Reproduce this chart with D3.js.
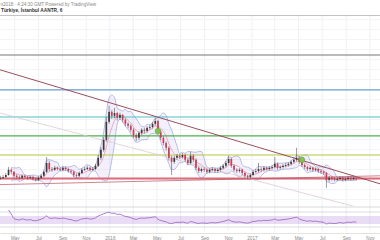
<!DOCTYPE html>
<html>
<head>
<meta charset="utf-8">
<script src="https://cdn.jsdelivr.net/npm/d3@7"></script>
<style>
  body { margin: 0; background: #fff; }
  svg { display: block; font-family: "Liberation Sans", Arial, sans-serif; }
</style>
</head>
<body>
<div id="chart"></div>
<script>
// weekly candles, first week starts Mon 23 Mar 2015
var closes = [2.03,2.05,2.10,2.23,2.18,2.08,2.05,2.03,2.08,2.05,2.03,2.05,2.00,1.98,2.03,2.08,2.18,2.40,2.25,2.23,
  2.28,2.25,2.23,2.28,2.25,2.20,2.18,2.10,2.08,2.15,2.23,2.25,2.28,2.23,2.25,2.33,2.53,2.73,2.98,3.43,
  3.68,3.58,3.65,3.53,3.60,3.48,3.38,3.33,3.23,3.10,3.03,3.15,3.23,3.20,3.28,3.30,3.38,3.45,3.18,3.03,
  2.90,2.78,2.53,2.43,2.53,2.58,2.55,2.60,2.48,2.40,2.58,2.48,2.28,2.20,2.25,2.23,2.18,2.23,2.25,2.20,
  2.23,2.28,2.33,2.40,2.50,2.33,2.23,2.20,2.23,2.15,2.08,2.05,2.10,2.18,2.20,2.25,2.23,2.28,2.25,2.28,
  2.30,2.38,2.28,2.30,2.33,2.35,2.38,2.43,2.48,2.53,2.43,2.35,2.30,2.25,2.28,2.23,2.25,2.20,2.18,2.15,
  1.98,2.03,2.00,1.98,2.00,2.03,1.98,2.00,2.03,2.00,2.03,2.00];
var highs = [2.08,2.10,2.15,2.30,2.27,2.20,2.12,2.09,2.12,2.11,2.08,2.09,2.08,2.04,2.07,2.12,2.22,2.55,2.45,2.30,
  2.33,2.31,2.29,2.32,2.31,2.28,2.24,2.21,2.14,2.19,2.27,2.30,2.33,2.31,2.30,2.38,2.60,2.80,3.05,3.55,
  3.83,3.72,3.78,3.68,3.66,3.63,3.52,3.42,3.37,3.27,3.14,3.20,3.27,3.28,3.32,3.35,3.42,3.53,3.48,3.22,
  3.07,2.94,2.82,2.58,2.58,2.63,2.62,2.65,2.63,2.52,2.68,2.62,2.52,2.32,2.29,2.29,2.27,2.27,2.30,2.28,
  2.27,2.32,2.37,2.45,2.58,2.53,2.36,2.27,2.27,2.26,2.18,2.11,2.14,2.22,2.25,2.40,2.29,2.32,2.31,2.32,
  2.35,2.55,2.41,2.34,2.37,2.40,2.42,2.47,2.52,2.78,2.57,2.46,2.39,2.33,2.32,2.31,2.29,2.28,2.24,2.21,
  2.18,2.07,2.06,2.04,2.04,2.06,2.06,2.04,2.06,2.06,2.06,2.05];
var lows = [1.98,2.00,2.02,2.08,2.13,2.03,2.01,1.99,2.00,2.02,1.99,2.00,1.96,1.94,1.95,2.00,2.05,2.15,2.20,2.18,
  2.20,2.21,2.19,2.20,2.21,2.16,2.13,2.05,2.03,2.05,2.12,2.20,2.22,2.19,2.20,2.22,2.30,2.48,2.68,2.93,
  3.38,3.50,3.52,3.46,3.48,3.42,3.32,3.27,3.17,3.03,2.95,2.98,3.10,3.14,3.16,3.23,3.26,3.33,3.12,2.97,
  2.84,2.71,2.46,2.10,2.38,2.48,2.50,2.51,2.43,2.35,2.37,2.42,2.22,2.15,2.16,2.18,2.13,2.14,2.19,2.16,
  2.16,2.19,2.24,2.29,2.36,2.28,2.18,2.15,2.16,2.10,2.03,2.00,2.01,2.07,2.14,2.16,2.18,2.19,2.21,2.21,
  2.24,2.26,2.23,2.24,2.26,2.29,2.31,2.34,2.39,2.44,2.38,2.30,2.25,2.20,2.21,2.18,2.19,2.15,2.13,2.10,
  1.78,1.93,1.96,1.94,1.95,1.97,1.94,1.95,1.97,1.96,1.97,1.96];

// horizontal levels (price) and their colours
var levels = [6.10, 5.10, 4.23, 3.55, 3.08, 2.60, 2.01];
var levelColors = ["#8a8a8a", "#777777", "#6a9fd2", "#4cc0c4", "#4caf50", "#b3c83c", "#e06a78"];
var levelWidths = [1, 1, 1.2, 1.2, 1.2, 1.2, 2];

// trend lines: [startDate, startPrice, endDate, endPrice]
var trendLines = [
  ["2015-03-24", 4.73, "2017-11-27", 1.88, "#8e3b46", 0.9],
  ["2015-03-24", 3.65, "2017-09-27", 1.30, "#dccbd0", 0.8],
  ["2015-03-24", 1.86, "2017-11-27", 2.08, "#b8505f", 0.7]
];

// signal markers
var signalWeeks = [58, 111];
var signalPrices = [3.20, 2.48];

var W = 380, H = 240;
var paneTop = 15, paneBottom = 206, rsiTop = 207, rsiBottom = 231;

var svg = d3.select("#chart").append("svg")
  .attr("width", W).attr("height", H);

var parse = d3.timeParse("%Y-%m-%d");
var weekStart = new Date(2015, 2, 23);
var dates = closes.map(function(d, i) { return d3.timeDay.offset(weekStart, 7 * i + 2); });

var x = d3.scaleTime()
  .domain([new Date(2015, 2, 24), new Date(2017, 10, 27)])
  .range([0, W]);
var y = d3.scaleLinear().domain([1.4, 6.4]).range([203, 3]);

// grid
var months = d3.timeMonth.range(new Date(2015, 4, 1), new Date(2017, 11, 1), 2);
svg.append("g").selectAll("line").data(months).enter().append("line")
  .attr("x1", function(d) { return x(d); }).attr("x2", function(d) { return x(d); })
  .attr("y1", paneTop).attr("y2", rsiBottom)
  .attr("stroke", "#eef0f5").attr("stroke-width", 1);
svg.append("g").selectAll("line").data(d3.range(1.5, 6.1, 0.25)).enter().append("line")
  .attr("x1", 0).attr("x2", W)
  .attr("y1", function(d) { return Math.round(y(d)) + 0.5; })
  .attr("y2", function(d) { return Math.round(y(d)) + 0.5; })
  .attr("stroke", "#f3f4f8").attr("stroke-width", 1);

// header
svg.append("text").attr("x", 0.5).attr("y", 5.5)
  .style("font-size", "4.6px").attr("fill", "#888")
  .text("n2018 · 4:24:30 GMT   Powered by TradingView");
svg.append("text").attr("x", 1).attr("y", 12)
  .style("font-size", "4.8px").style("font-weight", "bold").attr("fill", "#333")
  .text("Türkiye, İstanbul AANTR, 6");

svg.append("defs").append("clipPath").attr("id", "pane")
  .append("rect").attr("x", 0).attr("y", paneTop).attr("width", W).attr("height", paneBottom - paneTop);

var main = svg.append("g").attr("clip-path", "url(#pane)");

// bollinger bands from closes (5 week window)
var bb = closes.map(function(d, i) {
  if (i < 4) return null;
  var win = closes.slice(i - 4, i + 1);
  var m = d3.mean(win), s = d3.deviation(win);
  return { date: dates[i], mid: m, up: m + 2 * s, lo: m - 2 * s };
}).filter(function(d) { return d; });

main.append("path").datum(bb)
  .attr("fill", "rgba(150,110,220,0.10)")
  .attr("d", d3.area().curve(d3.curveMonotoneX)
    .x(function(d) { return x(d.date); })
    .y0(function(d) { return y(d.lo); })
    .y1(function(d) { return y(d.up); }));
["up", "lo"].forEach(function(k) {
  main.append("path").datum(bb)
    .attr("fill", "none").attr("stroke", "#8c93dc").attr("stroke-width", 0.6)
    .attr("d", d3.line().curve(d3.curveMonotoneX)
      .x(function(d) { return x(d.date); })
      .y(function(d) { return y(d[k]); }));
});
main.append("path").datum(bb)
  .attr("fill", "none").attr("stroke", "#e47aa0").attr("stroke-width", 0.6)
  .attr("d", d3.line().curve(d3.curveMonotoneX)
    .x(function(d) { return x(d.date); })
    .y(function(d) { return y(d.mid); }));

// horizontal levels
main.append("g").selectAll("line").data(levels).enter().append("line")
  .attr("x1", 0).attr("x2", W)
  .attr("y1", function(d) { return y(d); }).attr("y2", function(d) { return y(d); })
  .attr("stroke", function(d, i) { return levelColors[i]; })
  .attr("stroke-width", function(d, i) { return levelWidths[i]; });

// trend lines
main.append("g").selectAll("line").data(trendLines).enter().append("line")
  .attr("x1", function(d) { return x(parse(d[0])); })
  .attr("y1", function(d) { return y(d[1]); })
  .attr("x2", function(d) { return x(parse(d[2])); })
  .attr("y2", function(d) { return y(d[3]); })
  .attr("stroke", function(d) { return d[4]; })
  .attr("stroke-width", function(d) { return d[5]; });

// candles
var bw = (x(new Date(2015, 3, 7)) - x(new Date(2015, 2, 31))) * 0.62;
var candles = main.append("g").selectAll("g").data(closes).enter().append("g");
candles.append("line")
  .attr("x1", function(d, i) { return x(dates[i]); })
  .attr("x2", function(d, i) { return x(dates[i]); })
  .attr("y1", function(d, i) { return y(highs[i]); })
  .attr("y2", function(d, i) { return y(lows[i]); })
  .attr("stroke", "#3a3a3a").attr("stroke-width", 0.5);
candles.append("rect")
  .attr("x", function(d, i) { return x(dates[i]) - bw / 2; })
  .attr("width", bw)
  .attr("y", function(d, i) {
    var o = i ? closes[i - 1] : d;
    return y(Math.max(o, d));
  })
  .attr("height", function(d, i) {
    var o = i ? closes[i - 1] : d;
    return Math.max(0.6, Math.abs(y(o) - y(d)));
  })
  .attr("fill", function(d, i) {
    var o = i ? closes[i - 1] : d;
    return d >= o ? "#3a3a3a" : "#d23c52";
  });

// signals
main.append("g").selectAll("circle").data(signalWeeks).enter().append("circle")
  .attr("cx", function(d) { return x(dates[d]); })
  .attr("cy", function(d, i) { return y(signalPrices[i]); })
  .attr("r", 2.8)
  .attr("fill", "#7dc24c").attr("stroke", "#5ea534").attr("stroke-width", 0.5);

// RSI pane
var rsiY = d3.scaleLinear().domain([0, 100]).range([230, 210]);
svg.append("line").attr("x1", 0).attr("x2", W).attr("y1", rsiTop).attr("y2", rsiTop)
  .attr("stroke", "#c9c9d0").attr("stroke-width", 0.7);
svg.append("rect").attr("x", 0).attr("width", W)
  .attr("y", rsiY(70)).attr("height", rsiY(30) - rsiY(70))
  .attr("fill", "rgba(156,100,210,0.22)");
[90, 15].forEach(function(v) {
  svg.append("line").attr("x1", 0).attr("x2", W)
    .attr("y1", rsiY(v)).attr("y2", rsiY(v))
    .attr("stroke", "#c6c2d6").attr("stroke-width", 0.6);
});

// wilder rsi, period 14
var rsi = [], ag = 0, al = 0, n = 14;
for (var i = 1; i < closes.length; i++) {
  var ch = closes[i] - closes[i - 1];
  var g = Math.max(ch, 0), l = Math.max(-ch, 0);
  if (i <= n) { ag += g / n; al += l / n; }
  else { ag = (ag * (n - 1) + g) / n; al = (al * (n - 1) + l) / n; }
  if (i >= 3) rsi.push({ date: dates[i], v: al === 0 ? 100 : 100 - 100 / (1 + ag / al) });
}
svg.append("path").datum(rsi)
  .attr("fill", "none").attr("stroke", "#8e4bb5").attr("stroke-width", 0.7)
  .attr("d", d3.line().curve(d3.curveMonotoneX)
    .x(function(d) { return x(d.date); })
    .y(function(d) { return rsiY(d.v); }));

// time axis
var xAxis = d3.axisBottom(x)
  .tickValues(months)
  .tickSize(0)
  .tickFormat(function(d) { return d.getMonth() === 0 ? d3.timeFormat("%Y")(d) : d3.timeFormat("%b")(d); });
var ax = svg.append("g").attr("transform", "translate(0," + 233 + ")").call(xAxis);
ax.select(".domain").attr("stroke", "#cfcfcf").attr("stroke-width", 0.6);
ax.selectAll("text").style("font-size", "4.6px").attr("fill", "#888").attr("dy", "0.9em");
</script>
</body>
</html>
